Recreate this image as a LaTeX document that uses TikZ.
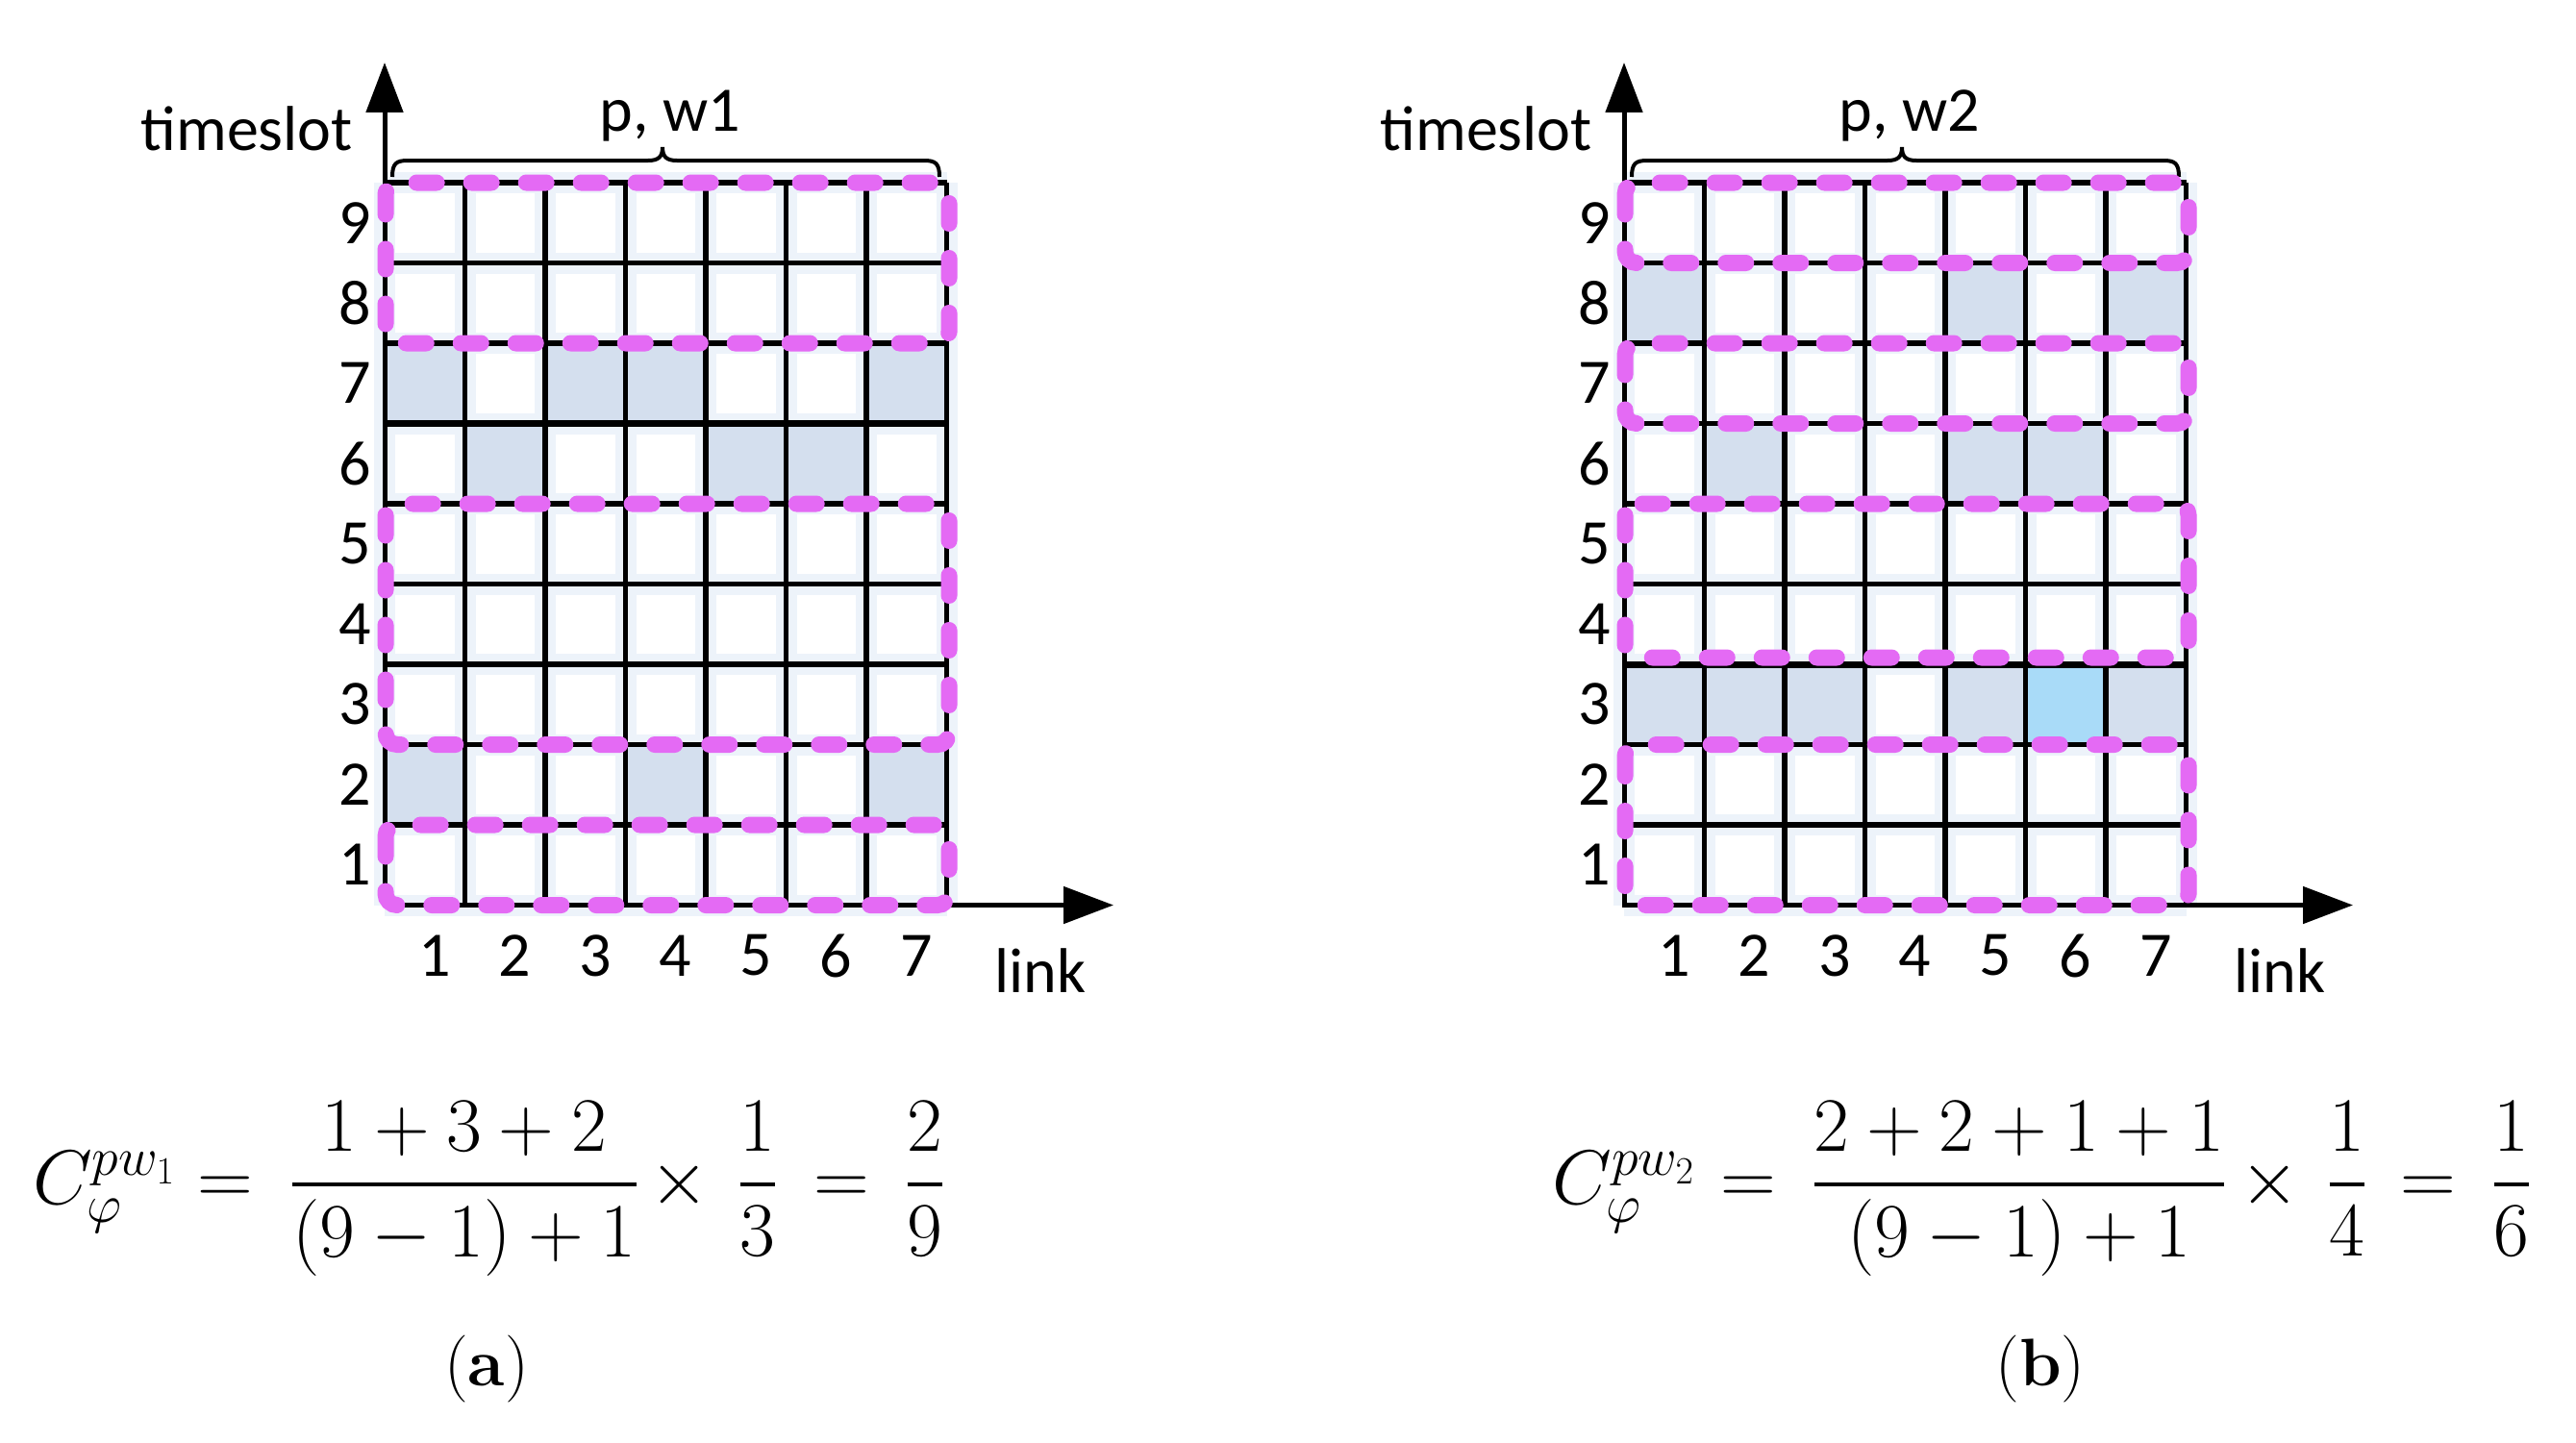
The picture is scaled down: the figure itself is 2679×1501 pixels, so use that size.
\RequirePackage{fix-cm}
\documentclass[tikz,border=0pt]{standalone}
\usepackage{fontspec}
\newfontfamily\calib{Carlito}
\usetikzlibrary{arrows.meta}
\definecolor{mag}{HTML}{E46AF4}
\definecolor{shadecol}{HTML}{D4DFEE}
\definecolor{brightcell}{HTML}{A9DBF8}
\definecolor{glowcol}{HTML}{EDF3FA}
\newcommand\shadecell[3]{\fill[#3] ({400+(#1-1)*83.5},{941.5-#2*83.5}) rectangle ({400+#1*83.5},{941.5-(#2-1)*83.5});}
\newcommand\gridglow{%
  \foreach \i in {0,...,7}{\draw[glowline] ({400+\i*83.5},190) -- ({400+\i*83.5},941.5);}
  \foreach \j in {0,...,9}{\draw[glowline] (400,{190+\j*83.5}) -- (984.5,{190+\j*83.5});}
}
\newcommand\gridmain[2]{%
  \foreach \i in {1,...,7}{\draw[gridline] ({400+\i*83.5},190) -- ({400+\i*83.5},941.5);}
  \foreach \j in {0,...,8}{\draw[gridline] (400,{190+\j*83.5}) -- (984.5,{190+\j*83.5});}
  \coordinate (o#1) at (400,941.5);
  \coordinate (ytip#1) at (400,65);
  \coordinate (xtip#1) at (1158,941.5);
  \draw[axis] (ytip#1) -- (o#1) -- (xtip#1);
  \foreach \r in {1,...,9}{\node[lbl] (row#1\r) at (369,{941.5-(\r-0.5)*83.5}) {\r};}
  \foreach \k in {1,...,7}{\node[lbl] (col#1\k) at ({400+(\k-0.5)*83.5+10},994) {\k};}
  \node[lbl, anchor=base east] (ts#1) at (367,157) {timeslot};
  \node[lbl, anchor=base west] (lk#1) at (1034,1032) {link};
  \node[lbl, anchor=base] (pw#1) at (697,137) {#2};
  \draw[line width=4pt] (408,184) .. controls (408,170) and (412,167) .. (424,167) -- (674,167)
     .. controls (685,167) and (689,163) .. (689,153) .. controls (689,163) and (693,167) .. (704,167)
     -- (961,167) .. controls (973,167) and (977,170) .. (977,184);
}
\newcommand\thickfrac[2]{{\displaystyle{#1\above 4.5pt #2}}}
\begin{document}
\begin{tikzpicture}[x=1pt,y=-1pt,
  lbl/.style={font=\calib\fontsize{66}{70}\selectfont, inner sep=0pt},
  mth/.style={font=\fontsize{80}{94}\selectfont, inner sep=0pt},
  captxt/.style={font=\fontsize{70}{84}\selectfont, inner sep=0pt},
  glowline/.style={line width=22pt, glowcol},
  gridline/.style={line width=5.5pt, black},
  thickgrid/.style={line width=7pt, black},
  band/.style={draw=mag, line width=17pt, rounded corners=12pt, dash pattern=on 21pt off 36pt, line cap=round},
  axis/.style={line width=5pt, {Triangle[width=38pt,length=52pt]}-{Triangle[width=38pt,length=52pt]}}]
\useasboundingbox (0,0) rectangle (2679,1501);
\fill[white] (0,0) rectangle (2679,1501);

% ---------- panel (a) ----------
\begin{scope}
  \gridglow
  \shadecell{1}{7}{shadecol}\shadecell{3}{7}{shadecol}\shadecell{4}{7}{shadecol}\shadecell{7}{7}{shadecol}
  \shadecell{2}{6}{shadecol}\shadecell{5}{6}{shadecol}\shadecell{6}{6}{shadecol}
  \shadecell{1}{2}{shadecol}\shadecell{4}{2}{shadecol}\shadecell{7}{2}{shadecol}
  \gridmain{A}{p, w1}
  \draw[thickgrid] (400,440.5) -- (984.5,440.5);
  \draw[band] (401,190) rectangle (987,357);
  \draw[band] (401,524) rectangle (987,774.5);
  \draw[band] (401,858) rectangle (987,941.5);
\end{scope}

% ---------- panel (b) ----------
\begin{scope}[shift={(1289,0)}]
  \gridglow
  \shadecell{1}{8}{shadecol}\shadecell{5}{8}{shadecol}\shadecell{7}{8}{shadecol}
  \shadecell{2}{6}{shadecol}\shadecell{5}{6}{shadecol}\shadecell{6}{6}{shadecol}
  \shadecell{1}{3}{shadecol}\shadecell{2}{3}{shadecol}\shadecell{3}{3}{shadecol}\shadecell{5}{3}{shadecol}\shadecell{7}{3}{shadecol}
  \shadecell{6}{3}{brightcell}
  \gridmain{B}{p, w2}
  \draw[thickgrid] (400,691) -- (984.5,691);
  \draw[band] (401,190) rectangle (987,273.5);
  \draw[band] (401,357) rectangle (987,440.5);
  \draw[band] (401,524) rectangle (987,684);
  \draw[band] (401,774.5) rectangle (987,941.5);
\end{scope}

% ---------- formulas ----------
\node[mth, anchor=base west] (CA) at (34,1252) {$C_{\varphi}^{pw_1}$};
\node[mth, anchor=base] (eqA1) at (234,1252) {$=$};
\node[mth, anchor=base] (frA) at (483,1252) {$\thickfrac{1+3+2}{(9-1)+1}$};
\node[mth, anchor=base] (tmA) at (707,1252) {$\times$};
\node[mth, anchor=base] (f3A) at (788,1252) {$\thickfrac{1}{3}$};
\node[mth, anchor=base] (eqA2) at (875,1252) {$=$};
\node[mth, anchor=base] (resA) at (962,1252) {$\thickfrac{2}{9}$};

\node[mth, anchor=base west] (CB) at (1614,1252) {$C_{\varphi}^{pw_2}$};
\node[mth, anchor=base] (eqB1) at (1818,1252) {$=$};
\node[mth, anchor=base] (frB) at (2100,1252) {$\thickfrac{2+2+1+1}{(9-1)+1}$};
\node[mth, anchor=base] (tmB) at (2361,1252) {$\times$};
\node[mth, anchor=base] (f4B) at (2441,1252) {$\thickfrac{1}{4}$};
\node[mth, anchor=base] (eqB2) at (2525,1252) {$=$};
\node[mth, anchor=base] (resB) at (2612,1252) {$\thickfrac{1}{6}$};

\node[captxt] (capA) at (506,1424) {(\textbf{a})};
\node[captxt] (capB) at (2122,1424) {(\textbf{b})};
\end{tikzpicture}
\end{document}
